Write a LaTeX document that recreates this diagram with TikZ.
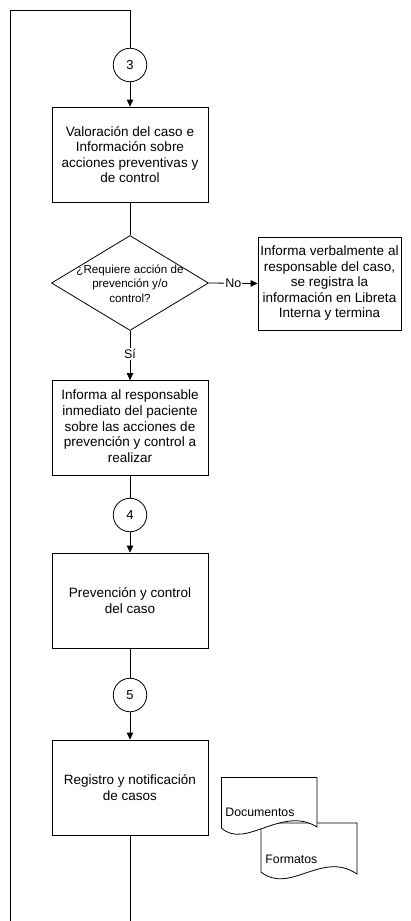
\documentclass[tikz,border=0pt]{standalone}
\usepackage{fontspec}
\setmainfont{Liberation Sans}
\usetikzlibrary{arrows.meta,shapes.geometric}

\begin{document}
\begin{tikzpicture}[x=1pt,y=-1pt,
  line width=0.8pt,
  every node/.style={inner sep=0pt},
  procbox/.style={draw,rectangle,fill=white,minimum width=156pt,minimum height=95pt,
    align=center,font=\fontsize{13.5}{15.6}\selectfont},
  connector/.style={draw,circle,fill=white,minimum size=33.5pt,font=\fontsize{13}{15}\selectfont},
  decision/.style={draw,diamond,minimum width=157pt,minimum height=95pt},
  qtext/.style={align=center,font=\fontsize{11.6}{14.6}\selectfont},
  flowlabel/.style={fill=white,inner sep=1pt,font=\fontsize{12.5}{14}\selectfont},
  docshape/.style={draw,fill=white},
  doctext/.style={anchor=base west,font=\fontsize{12.3}{14}\selectfont},
  flow/.style={-{Triangle[length=7pt,width=6.5pt]}}
]
\useasboundingbox (0,0) rectangle (410,921);

% connectors and process steps
\node[connector] (c3) at (130,65) {3};
\node[procbox] (b1) at (130,154.5) {Valoración del caso e\\Información sobre\\acciones preventivas y\\de control};
\node[decision] (d1) at (130,283) {};
\node[qtext] (q1) at (130,283.5) {¿Requiere acción de\\prevención y/o\\control?};
\node[procbox,minimum width=143pt,minimum height=93pt] (bno) at (329.5,283.5)
  {\raisebox{3pt}{\begin{tabular}{@{}c@{}}Informa verbalmente al\\responsable del caso,\\se registra la\\información en Libreta\\Interna y termina\end{tabular}}};
\node[procbox] (b3) at (130,428) {\raisebox{3pt}{\begin{tabular}{@{}c@{}}Informa al responsable\\inmediato del paciente\\sobre las acciones de\\prevención y control a\\realizar\end{tabular}}};
\node[connector] (c4) at (130,515) {4};
\node[procbox] (b4) at (130,600.5) {Prevención y control\\del caso};
\node[connector] (c5) at (130,695) {5};
\node[procbox] (b5) at (130,787.5) {Registro y notificación\\de casos};

% loop back to connector 3
\coordinate (loopA) at (130,922);
\coordinate (loopB) at (10,922);
\coordinate (loopC) at (10,10);
\coordinate (loopD) at (130,10);
\draw (loopB) -- (loopC) -- (loopD) -- (c3);
\draw (b5) -- (loopA);

% flow arrows
\draw[flow] (c3) -- (b1);
\draw (b1) -- (d1);
\draw[flow] (d1.east) -- node[flowlabel] (lno) {No} (bno.west);
\draw[flow] (d1.south) -- node[flowlabel,pos=0.47] (lsi) {Sí} (b3.north);
\draw (b3) -- (c4);
\draw[flow] (c4) -- (b4);
\draw (b4) -- (c5);
\draw[flow] (c5) -- (b5);

% document symbols
\draw[docshape] (261,823) -- (357,823) -- (357,874)
  .. controls (322,850) and (290,895) .. (261,872) -- cycle;
\node[doctext] (tform) at (265,863) {Formatos};
\draw[docshape] (221.5,777.5) -- (317,777.5) -- (317,827)
  .. controls (282,805) and (245,850) .. (221.5,828) -- cycle;
\node[doctext] (tdoc) at (225,816) {Documentos};
\end{tikzpicture}
\end{document}
